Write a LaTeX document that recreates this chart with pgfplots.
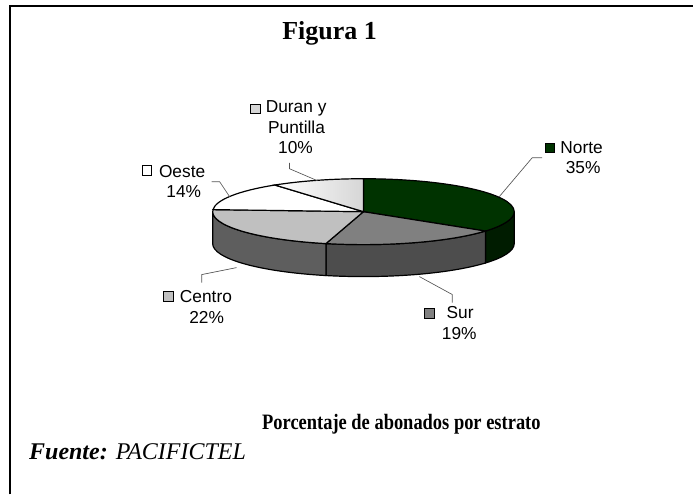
\documentclass[border=0pt]{standalone}
\usepackage{graphicx}
\usepackage{pgfplots}
\pgfplotsset{compat=1.18}
\usepackage{pgfplotstable}
\usepackage{fontspec}
\setmainfont{Liberation Serif}
\newfontfamily\arial{Liberation Sans}

\definecolor{norteTop}{HTML}{003300}
\definecolor{norteSide}{HTML}{001C00}
\definecolor{surTop}{HTML}{808080}
\definecolor{surSide}{HTML}{4D4D4D}
\definecolor{centroTop}{HTML}{C0C0C0}
\definecolor{centroSide}{HTML}{5E5E5E}
\definecolor{duranTop}{HTML}{D6D6D6}
\definecolor{leader}{HTML}{555555}

\pgfplotstableread{
name value
Norte 35
Sur 19
Centro 22
Oeste 14
Duran 10
}\piedata

% geometry (pixels of the reference)
\def\u{0.75pt}
\def\cx{364}
\def\cy{212}
\def\rx{151}
\def\ry{33}
\def\dd{32}

\newcommand\topslice[3]{%
  \filldraw[#3] (axis cs:\cx,\cy) -- (axis cs:{\cx+\rx*cos(#1)},{\cy-\ry*sin(#1)})
    arc[start angle=#1,end angle=#2,x radius=\rx*\u,y radius=\ry*\u] -- cycle;}
\newcommand\sideslice[3]{%
  \filldraw[#3] (axis cs:{\cx+\rx*cos(#1)},{\cy-\ry*sin(#1)})
    arc[start angle=#1,end angle=#2,x radius=\rx*\u,y radius=\ry*\u]
    -- (axis cs:{\cx+\rx*cos(#2)},{\cy+\dd-\ry*sin(#2)})
    arc[start angle=#2,end angle=#1,x radius=\rx*\u,y radius=\ry*\u] -- cycle;}
\newcommand\legsq[3]{%
  \node[draw=black,fill=#3,line width=0.7pt,minimum size=7.2pt,inner sep=0pt] at (axis cs:#1,#2) {};}
\newcommand\lab{\arial\fontsize{13}{15}\selectfont}

\begin{document}
\begin{tikzpicture}
\pgfplotstablegetelem{0}{value}\of\piedata \pgfmathsetmacro\vN{\pgfplotsretval}
\pgfplotstablegetelem{1}{value}\of\piedata \pgfmathsetmacro\vS{\pgfplotsretval}
\pgfplotstablegetelem{2}{value}\of\piedata \pgfmathsetmacro\vC{\pgfplotsretval}
\pgfplotstablegetelem{3}{value}\of\piedata \pgfmathsetmacro\vO{\pgfplotsretval}
\pgfplotstablegetelem{4}{value}\of\piedata \pgfmathsetmacro\vD{\pgfplotsretval}
\pgfmathsetmacro\aN{90}
\pgfmathsetmacro\bN{\aN-3.6*\vN}
\pgfmathsetmacro\bS{\bN-3.6*\vS}
\pgfmathsetmacro\bC{\bS-3.6*\vC}
\pgfmathsetmacro\bO{\bC-3.6*\vO}
\pgfmathsetmacro\bD{\bO-3.6*\vD}
\begin{axis}[
  x=\u, y=\u, xmin=0, xmax=694, ymin=0, ymax=495,
  y dir=reverse, hide axis, enlargelimits=false, clip=false,
  anchor=origin, at={(0,0)}]
\path (axis cs:0,0) rectangle (axis cs:694,495);
% frame
\draw[line width=1.6pt] (axis cs:10,495) -- (axis cs:10,6) -- (axis cs:694,6);
% side walls
\sideslice{0}{\bN}{fill=norteSide,draw=black,line width=0.9pt}
\sideslice{\bN}{\bS}{fill=surSide,draw=black,line width=0.9pt}
\sideslice{\bS}{-180}{fill=centroSide,draw=black,line width=0.9pt}
% tops
\topslice{\aN}{\bN}{fill=norteTop,draw=black,line width=0.9pt}
\topslice{\bN}{\bS}{fill=surTop,draw=black,line width=0.9pt}
\topslice{\bS}{\bC}{fill=centroTop,draw=black,line width=0.9pt}
\topslice{\bC}{\bO}{fill=white,draw=black,line width=0.9pt}
\topslice{\bO}{\bD}{left color=white,right color=duranTop,draw=black,line width=0.9pt}
% leader lines
\draw[leader,line width=0.5pt] (axis cs:543,158) -- (axis cs:533,158) -- (axis cs:500,197);
\draw[leader,line width=0.5pt] (axis cs:420,277) -- (axis cs:453,295) -- (axis cs:453,303);
\draw[leader,line width=0.5pt] (axis cs:237,268) -- (axis cs:202,275) -- (axis cs:202,283);
\draw[leader,line width=0.5pt] (axis cs:212,182) -- (axis cs:220,182) -- (axis cs:230,197);
\draw[leader,line width=0.5pt] (axis cs:290,163) -- (axis cs:290,169) -- (axis cs:318,181);
% labels
\legsq{551}{148}{norteTop}
\node[anchor=west,inner sep=0pt,font=\lab] at (axis cs:561,148) {Norte};
\node[inner sep=0pt,font=\lab] at (axis cs:584,168) {35\%};
\legsq{430}{314}{surTop}
\node[anchor=west,inner sep=0pt,font=\lab] at (axis cs:447,313) {Sur};
\node[inner sep=0pt,font=\lab] at (axis cs:460,334) {19\%};
\legsq{169}{297}{centroTop}
\node[anchor=west,inner sep=0pt,font=\lab] at (axis cs:180,297) {Centro};
\node[inner sep=0pt,font=\lab] at (axis cs:207,318) {22\%};
\legsq{147}{171}{white}
\node[anchor=west,inner sep=0pt,font=\lab] at (axis cs:159,172) {Oeste};
\node[inner sep=0pt,font=\lab] at (axis cs:184,192) {14\%};
\legsq{256}{109}{duranTop}
\node[anchor=west,inner sep=0pt,font=\lab] at (axis cs:266,109) {Duran y};
\node[inner sep=0pt,font=\lab] at (axis cs:297,128) {Puntilla};
\node[inner sep=0pt,font=\lab] at (axis cs:296,148) {10\%};
% titles
\node[font=\bfseries\fontsize{19.5}{22}\selectfont] at (axis cs:330,33) {Figura 1};
\node[font=\bfseries\fontsize{16.5}{20}\selectfont] at (axis cs:402,425) {\scalebox{0.84}[1]{Porcentaje de abonados por estrato}};
\node[anchor=west,inner sep=0pt,font=\itshape\fontsize{18}{21}\selectfont] at (axis cs:29,452) {\textbf{Fuente:} PACIFICTEL};
\end{axis}
\end{tikzpicture}
\end{document}
